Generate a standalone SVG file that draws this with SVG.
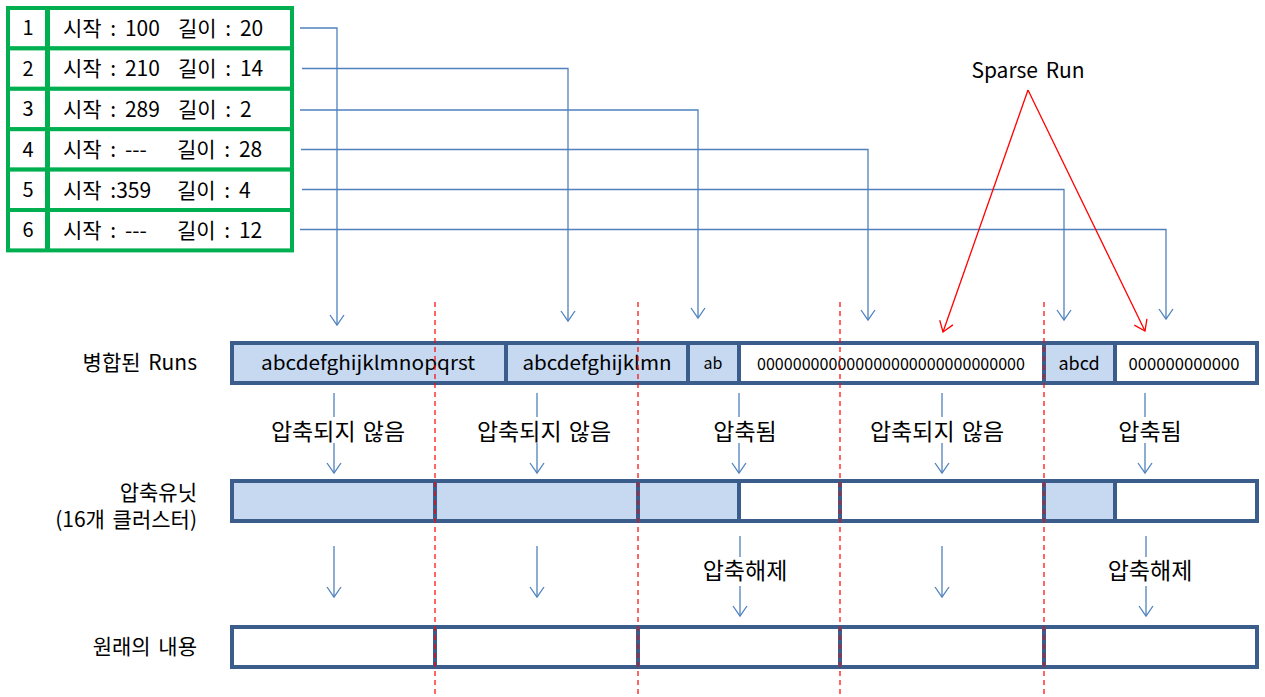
<svg xmlns="http://www.w3.org/2000/svg" width="1265" height="697" viewBox="0 0 1265 697">
<style>
text{font-family:"Noto Sans CJK KR","Noto Sans",sans-serif;fill:#000}
.t20{font-size:20px}
.tb{font-size:21px;word-spacing:4px}
.lb{font-size:21px;word-spacing:3px}
.t23{font-size:23px;word-spacing:2px}
.mid{text-anchor:middle}
.end{text-anchor:end}
.tbl{fill:#fff;stroke:#00B050;stroke-width:4}
.div{stroke:#00B050;stroke-width:5}
.cell{stroke:#3A5D8C;stroke-width:4}
.fb{fill:#C6D9F1}
.fw{fill:#fff}
.blue{fill:none;stroke:#4F81BD;stroke-width:1.3}
.red{fill:none;stroke:#FF0000;stroke-width:1.3}
.dash{fill:none;stroke:#FF0000;stroke-width:1.2;stroke-dasharray:5,4}
</style>
<defs>
<marker id="ab" markerUnits="userSpaceOnUse" markerWidth="20" markerHeight="20" viewBox="-12 -10 14 20" refX="0" refY="0" orient="auto">
<path d="M-10,-7 L0,0 L-10,7" fill="none" stroke="#4F81BD" stroke-width="1.3"/>
</marker>
<marker id="ar" markerUnits="userSpaceOnUse" markerWidth="20" markerHeight="20" viewBox="-12 -10 14 20" refX="0" refY="0" orient="auto">
<path d="M-10,-7 L0,0 L-10,7" fill="none" stroke="#FF0000" stroke-width="1.3"/>
</marker>
</defs>

<g id="run-table">
<g id="row1"><rect class="tbl" x="8" y="8" width="284" height="40.4"/><line class="div" x1="47.5" y1="8" x2="47.5" y2="48.4"/><text class="t20 mid" x="28" y="35">1</text><text class="tb" y="35.5"><tspan x="63">시작 : 100</tspan><tspan x="178">길이 : 20</tspan></text></g>
<g id="row2"><rect class="tbl" x="8" y="48.4" width="284" height="40.4"/><line class="div" x1="47.5" y1="48.4" x2="47.5" y2="88.8"/><text class="t20 mid" x="28" y="75.5">2</text><text class="tb" y="76"><tspan x="63">시작 : 210</tspan><tspan x="178">길이 : 14</tspan></text></g>
<g id="row3"><rect class="tbl" x="8" y="88.8" width="284" height="40.4"/><line class="div" x1="47.5" y1="88.8" x2="47.5" y2="129.2"/><text class="t20 mid" x="28" y="116">3</text><text class="tb" y="116.5"><tspan x="63">시작 : 289</tspan><tspan x="178">길이 : 2</tspan></text></g>
<g id="row4"><rect class="tbl" x="8" y="129.2" width="284" height="40.4"/><line class="div" x1="47.5" y1="129.2" x2="47.5" y2="169.6"/><text class="t20 mid" x="28" y="156.5">4</text><text class="tb" y="157"><tspan x="63">시작 : ---</tspan><tspan x="177">길이 : 28</tspan></text></g>
<g id="row5"><rect class="tbl" x="8" y="169.6" width="284" height="40.4"/><line class="div" x1="47.5" y1="169.6" x2="47.5" y2="210"/><text class="t20 mid" x="28" y="197">5</text><text class="tb" y="197.5"><tspan x="63">시작 :359</tspan><tspan x="177">길이 : 4</tspan></text></g>
<g id="row6"><rect class="tbl" x="8" y="210" width="284" height="40.4"/><line class="div" x1="47.5" y1="210" x2="47.5" y2="250.4"/><text class="t20 mid" x="28" y="237">6</text><text class="tb" y="237.5"><tspan x="63">시작 : ---</tspan><tspan x="177">길이 : 12</tspan></text></g>
</g>

<g id="labels">
<text class="lb end" x="197" y="370">병합된 Runs</text>
<text class="lb end" x="197" y="500">압축유닛</text>
<text class="lb end" x="197" y="527">(16개 클러스터)</text>
<text class="lb end" x="197" y="654">원래의 내용</text>
<text id="sparse-run" class="lb mid" x="1028" y="78">Sparse Run</text>
</g>

<g id="merged-runs">
<rect class="cell fb" x="232" y="343" width="274" height="40"/>
<rect class="cell fb" x="506" y="343" width="182" height="40"/>
<rect class="cell fb" x="688" y="343" width="51" height="40"/>
<rect class="cell fw" x="739" y="343" width="305" height="40"/>
<rect class="cell fb" x="1044" y="343" width="71" height="40"/>
<rect class="cell fw" x="1115" y="343" width="142" height="40"/>
<text x="368" y="370" font-size="19" class="mid" textLength="214" lengthAdjust="spacingAndGlyphs">abcdefghijklmnopqrst</text>
<text x="597" y="370" font-size="19" class="mid" textLength="149" lengthAdjust="spacingAndGlyphs">abcdefghijklmn</text>
<text x="713" y="369" font-size="16" class="mid">ab</text>
<text x="891" y="369.5" font-size="16.5" class="mid" textLength="268" lengthAdjust="spacingAndGlyphs">000000000000000000000000000000</text>
<text x="1079" y="370" font-size="18" class="mid">abcd</text>
<text x="1184" y="369.5" font-size="16.5" class="mid" textLength="111" lengthAdjust="spacingAndGlyphs">000000000000</text>
</g>

<g id="compression-units">
<rect class="cell fb" x="232" y="481" width="203" height="40"/>
<rect class="cell fb" x="435" y="481" width="203" height="40"/>
<rect class="cell fb" x="638" y="481" width="101" height="40"/>
<rect class="cell fw" x="739" y="481" width="101" height="40"/>
<rect class="cell fw" x="840" y="481" width="204" height="40"/>
<rect class="cell fb" x="1044" y="481" width="71" height="40"/>
<rect class="cell fw" x="1115" y="481" width="142" height="40"/>
</g>

<g id="original-content">
<rect class="cell fw" x="232" y="627" width="203" height="40"/>
<rect class="cell fw" x="435" y="627" width="203" height="40"/>
<rect class="cell fw" x="638" y="627" width="202" height="40"/>
<rect class="cell fw" x="840" y="627" width="204" height="40"/>
<rect class="cell fw" x="1044" y="627" width="213" height="40"/>
</g>

<g id="status-labels">
<text class="t23 mid" x="338" y="440">압축되지 않음</text>
<text class="t23 mid" x="544" y="440">압축되지 않음</text>
<text class="t23 mid" x="745" y="440">압축됨</text>
<text class="t23 mid" x="937" y="440">압축되지 않음</text>
<text class="t23 mid" x="1150" y="440">압축됨</text>
<text class="t23 mid" x="745" y="579">압축해제</text>
<text class="t23 mid" x="1150" y="579">압축해제</text>
</g>

<g id="connectors">
<polyline class="blue" points="300,28 337,28 337,325" marker-end="url(#ab)"/>
<polyline class="blue" points="302,68.5 568,68.5 568,321" marker-end="url(#ab)"/>
<polyline class="blue" points="300,110 698,110 698,318" marker-end="url(#ab)"/>
<polyline class="blue" points="301,149.5 868,149.5 868,320" marker-end="url(#ab)"/>
<polyline class="blue" points="302,189.5 1064,189.5 1064,320" marker-end="url(#ab)"/>
<polyline class="blue" points="300,229.5 1166,229.5 1166,319" marker-end="url(#ab)"/>

<line class="red" x1="1028" y1="90" x2="943" y2="332" marker-end="url(#ar)"/>
<line class="red" x1="1028" y1="90" x2="1145" y2="331" marker-end="url(#ar)"/>

<line class="blue" x1="334" y1="393" x2="334" y2="417"/>
<line class="blue" x1="334" y1="443" x2="334" y2="473" marker-end="url(#ab)"/>
<line class="blue" x1="537" y1="393" x2="537" y2="417"/>
<line class="blue" x1="537" y1="443" x2="537" y2="473" marker-end="url(#ab)"/>
<line class="blue" x1="739" y1="393" x2="739" y2="417"/>
<line class="blue" x1="739" y1="443" x2="739" y2="473" marker-end="url(#ab)"/>
<line class="blue" x1="942" y1="393" x2="942" y2="417"/>
<line class="blue" x1="942" y1="443" x2="942" y2="473" marker-end="url(#ab)"/>
<line class="blue" x1="1145" y1="393" x2="1145" y2="417"/>
<line class="blue" x1="1145" y1="443" x2="1145" y2="473" marker-end="url(#ab)"/>

<line class="blue" x1="334" y1="546" x2="334" y2="597" marker-end="url(#ab)"/>
<line class="blue" x1="537" y1="546" x2="537" y2="597" marker-end="url(#ab)"/>
<line class="blue" x1="942" y1="546" x2="942" y2="597" marker-end="url(#ab)"/>
<line class="blue" x1="740" y1="536" x2="740" y2="557"/>
<line class="blue" x1="740" y1="586" x2="740" y2="616" marker-end="url(#ab)"/>
<line class="blue" x1="1146" y1="536" x2="1146" y2="557"/>
<line class="blue" x1="1146" y1="586" x2="1146" y2="616" marker-end="url(#ab)"/>
</g>

<g id="cluster-boundaries">
<line class="dash" x1="435" y1="302" x2="435" y2="697"/>
<line class="dash" x1="638" y1="302" x2="638" y2="697"/>
<line class="dash" x1="840" y1="302" x2="840" y2="697"/>
<line class="dash" x1="1044" y1="302" x2="1044" y2="697"/>
</g>
</svg>
